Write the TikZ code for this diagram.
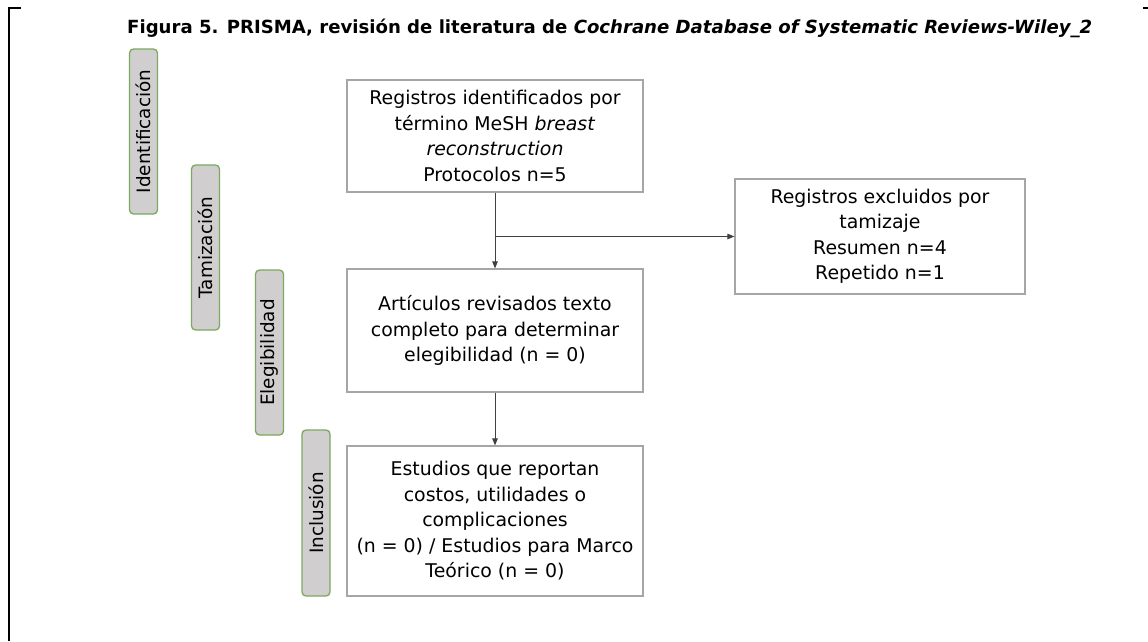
\documentclass[tikz,border=0pt]{standalone}
\usepackage{fontspec}
\setmainfont{DejaVu Sans}
\usetikzlibrary{arrows.meta}
\definecolor{stagefill}{HTML}{D0CECE}
\definecolor{stageline}{HTML}{7DA85E}
\definecolor{boxline}{HTML}{A6A6A6}
\definecolor{linkline}{HTML}{404040}
\tikzset{
  flowbox/.style={draw=boxline, line width=1.2pt, fill=white, align=center,
    inner sep=2pt, font=\fontsize{18.9}{25.5}\selectfont},
  stagebox/.style={draw=stageline, fill=stagefill, line width=1.3pt,
    rounded corners=4pt, rotate=90, minimum height=28pt, minimum width=165pt,
    inner sep=0pt, font=\fontsize{18.4}{20}\selectfont},
  link/.style={draw=linkline, line width=1pt, -{Triangle[length=7pt,width=5.5pt]}},
  frame/.style={line width=2.2pt, black}
}
\begin{document}
\begin{tikzpicture}[x=1pt, y=-1pt]
  \useasboundingbox (0,0) rectangle (1148,641);
  % page frame fragments
  \draw[frame] (9,641) -- (9,8) -- (21,8);
  \draw[frame] (1143,8) -- (1148,8);
  % title
  \node[anchor=base west, inner sep=0pt, font=\fontsize{18.1}{20}\selectfont\bfseries] (title) at (127,33)
    {Figura 5. PRISMA, revisión de literatura de \textit{Cochrane Database of Systematic Reviews-Wiley\_2}};
  % stages
  \node[stagebox] (sid) at (143.5,131.5) {Identificación};
  \node[stagebox] (stam) at (205.5,247.5) {Tamización};
  \node[stagebox] (seleg) at (269.5,352.5) {Elegibilidad};
  \node[stagebox, minimum width=166pt] (sinc) at (316,513) {Inclusión};
  % flow boxes
  \node[flowbox, minimum width=296pt, minimum height=112pt] (ident) at (495,136)
    {Registros identificados por\\término MeSH \textit{breast}\\\textit{reconstruction}\\Protocolos n=5};
  \node[flowbox, minimum width=290pt, minimum height=115pt] (excl) at (880,236.5)
    {Registros excluidos por\\tamizaje\\Resumen n=4\\Repetido n=1};
  \node[flowbox, minimum width=296pt, minimum height=123pt] (eleg) at (495,330.5)
    {Artículos revisados texto\\completo para determinar\\elegibilidad (n = 0)};
  \node[flowbox, minimum width=296pt, minimum height=150pt] (incl) at (495,521)
    {Estudios que reportan\\costos, utilidades o\\complicaciones\\(n = 0) / Estudios para Marco\\Teórico (n = 0)};
  % connectors
  \coordinate (split) at (ident.south |- excl.west);
  \draw[link] (ident.south) -- (eleg.north);
  \draw[link] (split) -- (excl.west);
  \draw[link] (eleg.south) -- (incl.north);
\end{tikzpicture}
\end{document}
